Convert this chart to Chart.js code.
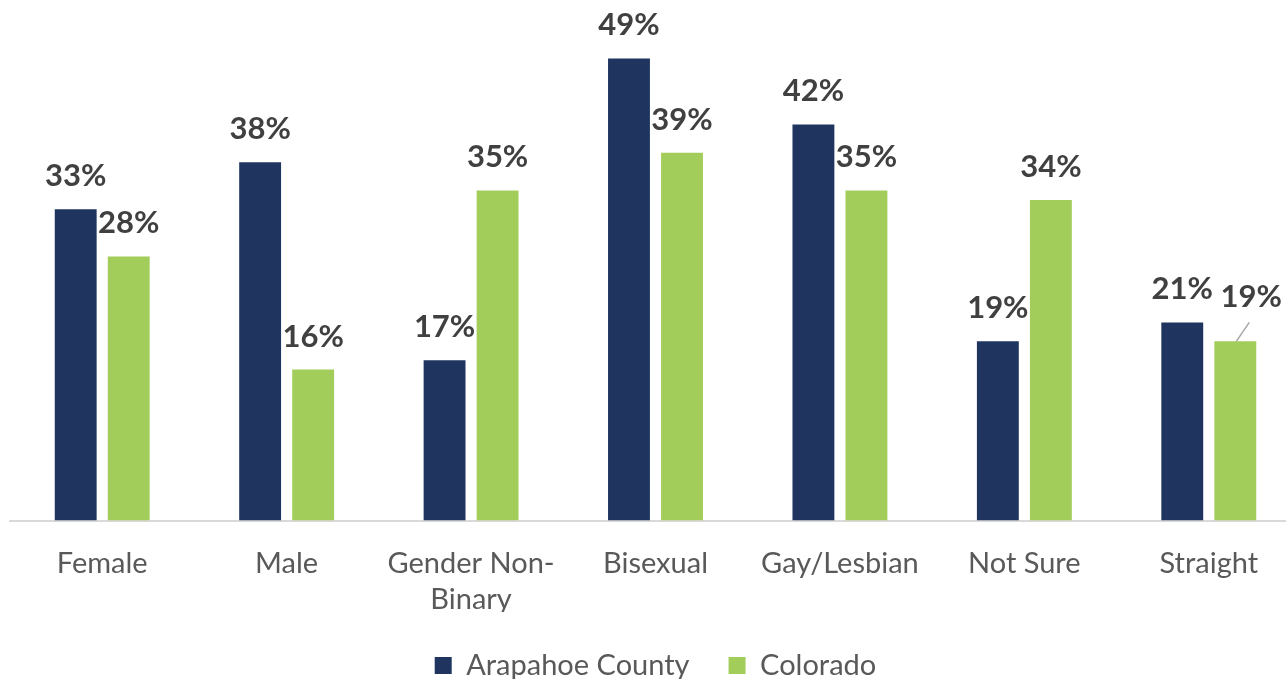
<!DOCTYPE html>
<html><head><meta charset="utf-8">
<script src="https://cdn.jsdelivr.net/npm/chart.js@4"></script>
<style>html,body{margin:0;padding:0;background:#fff;overflow:hidden;width:1286px;height:679px}#wrap{width:1322px;height:679px;position:relative}</style>
</head><body><div id="wrap"><canvas id="c"></canvas></div>
<script>
const categories = ['Female','Male',['Gender Non-','Binary'],'Bisexual','Gay/Lesbian','Not Sure','Straight'];
const arapahoe = [33,38,17,49,42,19,21];
const colorado = [28,16,35,39,35,34,19];
const seriesNames = ['Arapahoe County','Colorado'];
const FONT = 'Lato, "Liberation Sans", sans-serif';

const labelPlugin = {
  id:'vlabels',
  afterDatasetsDraw(chart){
    const ctx = chart.ctx;
    ctx.save();
    ctx.font = 'bold 31px ' + FONT;
    ctx.fillStyle = '#404040';
    ctx.textAlign = 'center';
    ctx.textBaseline = 'alphabetic';
    chart.data.datasets.forEach((ds,di)=>{
      chart.getDatasetMeta(di).data.forEach((bar,i)=>{
        let x = bar.x, y = bar.y - 23;
        if (di===1 && i===6){
          ctx.strokeStyle='#a6a6a6'; ctx.lineWidth=1.5;
          ctx.beginPath(); ctx.moveTo(bar.x+1,bar.y); ctx.lineTo(bar.x+14,bar.y-19); ctx.stroke();
          x = bar.x + 16; y = bar.y - 34;
        }
        ctx.fillText(ds.data[i]+'%', x, y);
      });
    });
    ctx.restore();
  }
};

new Chart(document.getElementById('c'),{
  type:'bar',
  data:{labels:categories,datasets:[
    {label:seriesNames[0],data:arapahoe,backgroundColor:'#1f3560',categoryPercentage:0.575,barPercentage:0.79},
    {label:seriesNames[1],data:colorado,backgroundColor:'#a3cd5b',categoryPercentage:0.575,barPercentage:0.79}
  ]},
  options:{
    responsive:true,maintainAspectRatio:false,animation:false,
    layout:{padding:{left:10,right:21,top:49,bottom:-11}},
    plugins:{legend:{position:'bottom',labels:{font:{family:FONT,size:29},color:'#595959',boxWidth:17,boxHeight:17,padding:39}},tooltip:{enabled:false}},
    scales:{
      y:{display:false,min:0,max:50},
      x:{grid:{display:false},border:{display:true,color:'#d9d9d9',width:2},
         afterFit(scale){ scale.height -= 23; },
         ticks:{font:{family:FONT,size:29,lineHeight:1.25},color:'#595959',padding:17,maxRotation:0,autoSkip:false}}
    }
  },
  plugins:[labelPlugin]
});
</script></body></html>
